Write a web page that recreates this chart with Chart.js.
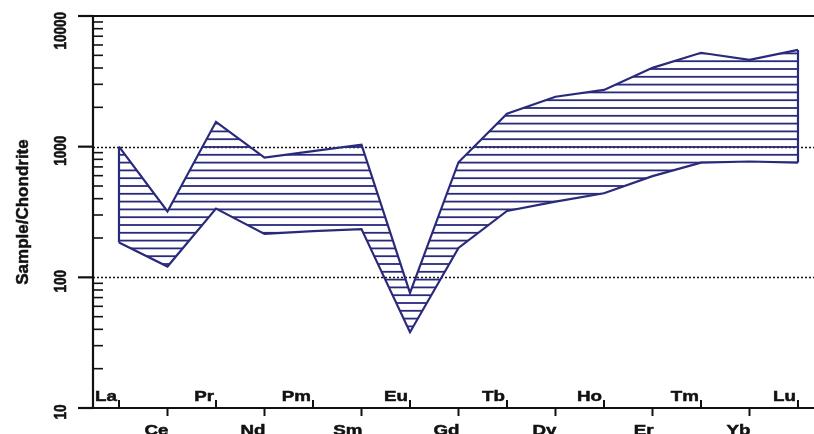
<!DOCTYPE html>
<html>
<head>
<meta charset="utf-8">
<script src="https://cdn.jsdelivr.net/npm/chart.js@4/dist/chart.umd.min.js"></script>
<style>
  html, body { margin: 0; padding: 0; background: #fff; }
  #wrap { width: 814px; height: 434px; position: relative; }
</style>
</head>
<body>
<div id="wrap"><canvas id="reeChart"></canvas></div>
<script>
// REE pattern, chondrite normalised (range envelope)
const elements = ['La', 'Ce', 'Pr', 'Nd', 'Pm', 'Sm', 'Eu', 'Gd', 'Tb', 'Dy', 'Ho', 'Er', 'Tm', 'Yb', 'Lu'];
const upperValues = [1000, 319, 1550, 824, 925, 1035, 76, 760, 1790, 2410, 2720, 4010, 5230, 4610, 5500];
const lowerValues = [185, 121, 336, 215, 226, 234, 38, 168, 322, 380, 440, 595, 755, 770, 755];
const yTickValues = [10, 100, 1000, 10000];
const dottedValues = [100, 1000];
const yTitle = 'Sample/Chondrite';

const NAVY = '#2a2a7c';
const FONT = "'Liberation Sans', Arial, sans-serif";

// horizontal hatch pattern (about 7.8px spacing)
function makeHatch() {
    const c = document.createElement('canvas');
    c.width = 8;
    c.height = 39;
    const g = c.getContext('2d');
    g.fillStyle = NAVY;
    [6.6, 14.4, 22.2, 30, 37.8].forEach(off => {
        g.fillRect(0, off - 0.9, 8, 1.8);
    });
    return g.createPattern(c, 'repeat');
}

const toPoints = vals => vals.map((v, i) => ({ x: i, y: v }));
const last = elements.length - 1;

// bold-looking text: fill plus a thin stroke
function heavyText(ctx, txt) {
    ctx.lineWidth = 0.5;
    ctx.strokeText(txt, 0, 0);
    ctx.fillText(txt, 0, 0);
}

const axesPlugin = {
    id: 'axesPlugin',
    beforeDatasetsDraw(chart) {
        const ctx = chart.ctx;
        const a = chart.chartArea;
        const ys = chart.scales.y;
        ctx.save();
        ctx.strokeStyle = '#111';
        ctx.lineWidth = 1.5;
        ctx.setLineDash([2, 2]);
        dottedValues.forEach(v => {
            const y = Math.round(ys.getPixelForValue(v)) + 0.5;
            ctx.beginPath();
            ctx.moveTo(a.left, y);
            ctx.lineTo(a.right, y);
            ctx.stroke();
        });
        ctx.restore();
    },
    afterDatasetsDraw(chart) {
        const ctx = chart.ctx;
        const a = chart.chartArea;
        const xs = chart.scales.x;
        const ys = chart.scales.y;
        ctx.save();
        ctx.strokeStyle = '#111';
        ctx.fillStyle = '#111';

        // top border and x axis
        ctx.lineWidth = 2.2;
        ctx.beginPath();
        ctx.moveTo(a.left - 15, a.top);
        ctx.lineTo(a.right, a.top);
        ctx.moveTo(a.left - 15, a.bottom);
        ctx.lineTo(a.right, a.bottom);
        ctx.moveTo(a.left, a.top);
        ctx.lineTo(a.left, a.bottom);
        ctx.stroke();

        // major y ticks
        yTickValues.forEach(v => {
            const y = ys.getPixelForValue(v);
            ctx.beginPath();
            ctx.moveTo(a.left - 15, y);
            ctx.lineTo(a.left, y);
            ctx.stroke();
        });

        // minor y ticks (inside)
        ctx.lineWidth = 1.6;
        for (let d = 0; d < yTickValues.length - 1; d++) {
            for (let m = 2; m <= 9; m++) {
                const y = ys.getPixelForValue(yTickValues[d] * m);
                ctx.beginPath();
                ctx.moveTo(a.left, y);
                ctx.lineTo(a.left + 10, y);
                ctx.stroke();
            }
        }

        // x ticks and element labels, alternating above / below axis
        ctx.font = 'bold 15px ' + FONT;
        ctx.textAlign = 'right';
        elements.forEach((el, i) => {
            const x = xs.getPixelForValue(i);
            const up = i % 2 === 0;
            ctx.lineWidth = 2;
            ctx.beginPath();
            ctx.moveTo(x, a.bottom);
            ctx.lineTo(x, up ? a.bottom - 8 : a.bottom + 8);
            ctx.stroke();
            ctx.save();
            if (up) {
                ctx.translate(x - 2, a.bottom - 7);
                ctx.textBaseline = 'alphabetic';
            } else {
                ctx.translate(x + 1, a.bottom + 15);
                ctx.textBaseline = 'top';
            }
            ctx.scale(1.25, 1);
            heavyText(ctx, el);
            ctx.restore();
        });

        // y tick labels (rotated)
        ctx.font = 'bold 13.5px ' + FONT;
        ctx.textAlign = 'center';
        ctx.textBaseline = 'middle';
        yTickValues.forEach(v => {
            let y = ys.getPixelForValue(v) + 4;
            const w = ctx.measureText(String(v)).width;
            if (y - w / 2 < 12) y = 12 + w / 2;
            ctx.save();
            ctx.translate(61, y);
            ctx.scale(1.25, 1);
            ctx.rotate(-Math.PI / 2);
            heavyText(ctx, String(v));
            ctx.restore();
        });

        // y axis title
        ctx.font = 'bold 17px ' + FONT;
        ctx.save();
        ctx.translate(23, 212);
        ctx.rotate(-Math.PI / 2);
        heavyText(ctx, yTitle);
        ctx.restore();

        ctx.restore();
    }
};

function initChart() {
    const ctx = document.getElementById('reeChart').getContext('2d');
    const hatch = makeHatch();

    new Chart(ctx, {
        type: 'line',
        data: {
            datasets: [{
                label: 'lower',
                data: toPoints(lowerValues),
                borderColor: NAVY,
                borderWidth: 2.2,
                pointRadius: 0,
                tension: 0,
                fill: false
            }, {
                label: 'upper',
                data: toPoints(upperValues),
                borderColor: NAVY,
                backgroundColor: hatch,
                borderWidth: 2.2,
                pointRadius: 0,
                tension: 0,
                fill: '-1'
            }, {
                label: 'edgeLeft',
                data: [{ x: 0, y: upperValues[0] }, { x: 0, y: lowerValues[0] }],
                borderColor: NAVY,
                borderWidth: 2.2,
                pointRadius: 0,
                fill: false
            }, {
                label: 'edgeRight',
                data: [{ x: last, y: upperValues[last] }, { x: last, y: lowerValues[last] }],
                borderColor: NAVY,
                borderWidth: 2.2,
                pointRadius: 0,
                fill: false
            }]
        },
        options: {
            responsive: true,
            maintainAspectRatio: false,
            animation: false,
            devicePixelRatio: 1,
            layout: { padding: { left: 93, top: 16, right: 0, bottom: 26 } },
            plugins: {
                legend: { display: false },
                tooltip: { enabled: false }
            },
            scales: {
                x: { type: 'linear', min: -0.536, max: 14.33, display: false },
                y: { type: 'logarithmic', min: 10, max: 10000, display: false }
            }
        },
        plugins: [axesPlugin]
    });
}

initChart();
</script>
</body>
</html>
